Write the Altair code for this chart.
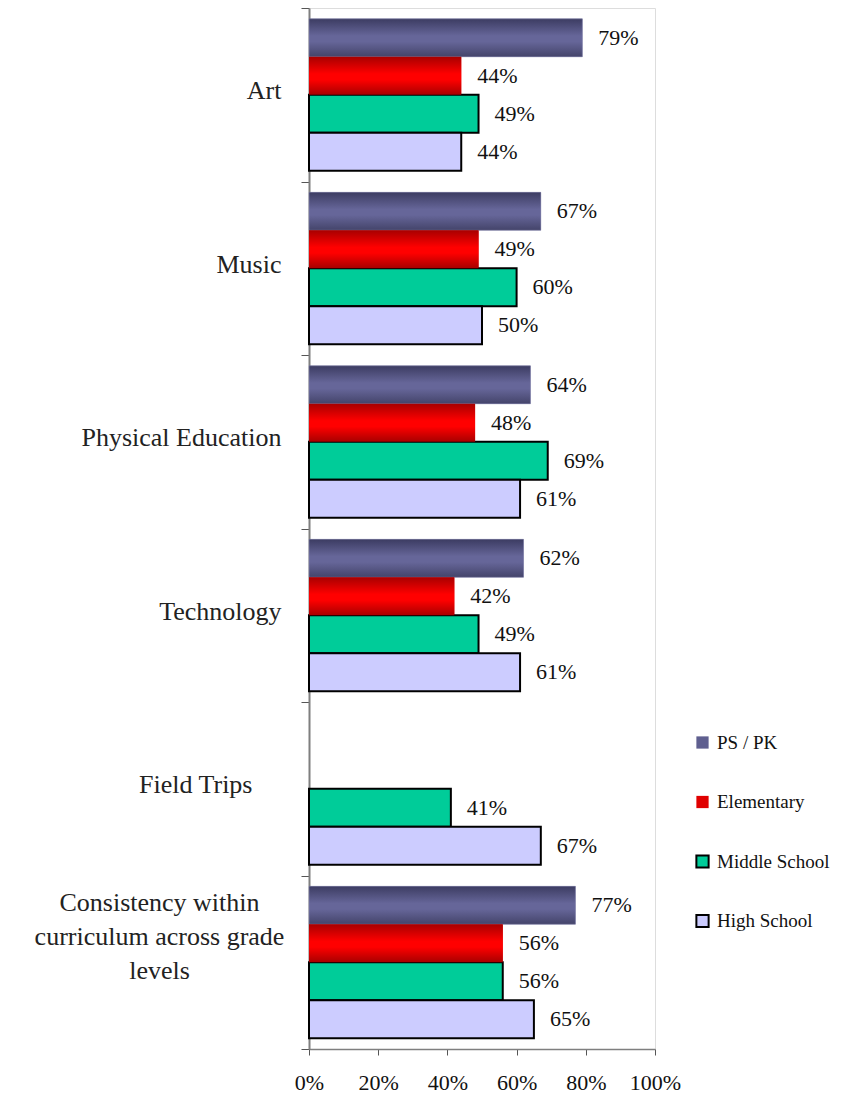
import altair as alt
import pandas as pd

categories = ["Art", "Music", "Physical Education", "Technology", "Field Trips",
              "Consistency within curriculum across grade levels"]
series = ["PS / PK", "Elementary", "Middle School", "High School"]
ps_pk = [79, 67, 64, 62, None, 77]
elementary = [44, 49, 48, 42, None, 56]
middle = [49, 60, 69, 49, 41, 56]
high = [44, 50, 61, 61, 67, 65]
x_ticks = [0, 20, 40, 60, 80, 100]

flat_colors = ["#5f5f8f", "#e00000", "#00cc99", "#ccccff"]
stroke_colors = ["transparent", "transparent", "#000000", "#000000"]

rows = []
for s, vals in zip(series, [ps_pk, elementary, middle, high]):
    for c, v in zip(categories, vals):
        if v is not None:
            rows.append({"category": c, "series": s, "value": v})
df = pd.DataFrame(rows)

FONT = "'Liberation Serif', 'DejaVu Serif', serif"
LONG = "Consistency within curriculum across grade levels"

y_enc = alt.Y("category:N", sort=categories,
              scale=alt.Scale(paddingInner=0, paddingOuter=0),
              axis=alt.Axis(title=None, tickBand="extent", tickSize=8, tickColor="#555555",
                            domainColor="#7f7f7f", domainWidth=2, labelFont=FONT,
                            labelFontSize=26, labelColor="#222222",
                            labelPadding={"condition": [
                                {"test": f"datum.value == '{LONG}'", "value": 142},
                                {"test": "datum.value == 'Field Trips'", "value": 49}],
                                "value": 20},
                            labelAlign={"condition": {"test": f"datum.value == '{LONG}'", "value": "center"},
                                        "value": "right"},
                            labelLimit=400, labelLineHeight=34,
                            labelOffset={"condition": {"test": f"datum.value == '{LONG}'", "value": -60},
                                         "value": -4},
                            labelExpr=f"datum.label == '{LONG}' ? ['Consistency within', 'curriculum across grade', 'levels'] : datum.label"))
yoff_enc = alt.YOffset("series:N", sort=series,
                       scale=alt.Scale(domain=series, paddingInner=0, paddingOuter=0.285))
x_enc = alt.X("value:Q", scale=alt.Scale(domain=[0, 100]),
              axis=alt.Axis(title=None, values=x_ticks, grid=False, tickSize=6,
                            tickColor="#555555", domainColor="#7f7f7f", domainWidth=1.5,
                            labelFont=FONT, labelFontSize=22, labelColor="#111111",
                            labelPadding=17, labelOverlap=False, labelFlush=False,
                            labelExpr="datum.value + '%'"))

legend = alt.Legend(title=None, orient="none", legendX=384, legendY=725,
                    symbolType="square", symbolSize=150, symbolStrokeWidth=2,
                    labelFont=FONT, labelFontSize=19, labelColor="#111111",
                    labelOffset=5, rowPadding=38.5)

base = alt.Chart(df)

bars = base.mark_bar(strokeWidth=2).encode(
    x=x_enc, y=y_enc, yOffset=yoff_enc,
    color=alt.Color("series:N", sort=series,
                    scale=alt.Scale(domain=series, range=flat_colors), legend=legend),
    stroke=alt.Stroke("series:N", sort=series,
                      scale=alt.Scale(domain=series, range=stroke_colors), legend=legend),
)

grad_ps = alt.Gradient(gradient="linear", x1=0, y1=0, x2=0, y2=1, stops=[
    alt.GradientStop(color="#3c3c62", offset=0),
    alt.GradientStop(color="#666699", offset=0.45),
    alt.GradientStop(color="#666699", offset=0.6),
    alt.GradientStop(color="#44446a", offset=1)])
grad_el = alt.Gradient(gradient="linear", x1=0, y1=0, x2=0, y2=1, stops=[
    alt.GradientStop(color="#a80000", offset=0),
    alt.GradientStop(color="#ff0000", offset=0.45),
    alt.GradientStop(color="#ff0000", offset=0.6),
    alt.GradientStop(color="#a80000", offset=1)])

ps_layer = base.transform_filter(alt.datum.series == "PS / PK").mark_bar(
    fill=grad_ps, stroke="#8a8ab0", strokeWidth=0.5).encode(x=x_enc, y=y_enc, yOffset=yoff_enc)
el_layer = base.transform_filter(alt.datum.series == "Elementary").mark_bar(
    fill=grad_el).encode(x=x_enc, y=y_enc, yOffset=yoff_enc)

labels = base.mark_text(align="left", baseline="middle", dx=16, font=FONT,
                        fontSize=22, color="#111111").encode(
    x=x_enc, y=y_enc, yOffset=yoff_enc,
    text=alt.Text("label:N")).transform_calculate(label="datum.value + '%'")

chart = alt.layer(bars, ps_layer, el_layer, labels).properties(
    width=346, height=1041,
    autosize=alt.AutoSizeParams(type="none"),
    padding={"left": 301, "top": 0, "right": 181, "bottom": 44},
).configure_view(stroke=None).configure(background="white")

chart.save("out.html", embed_options={"renderer": "svg", "actions": False})
